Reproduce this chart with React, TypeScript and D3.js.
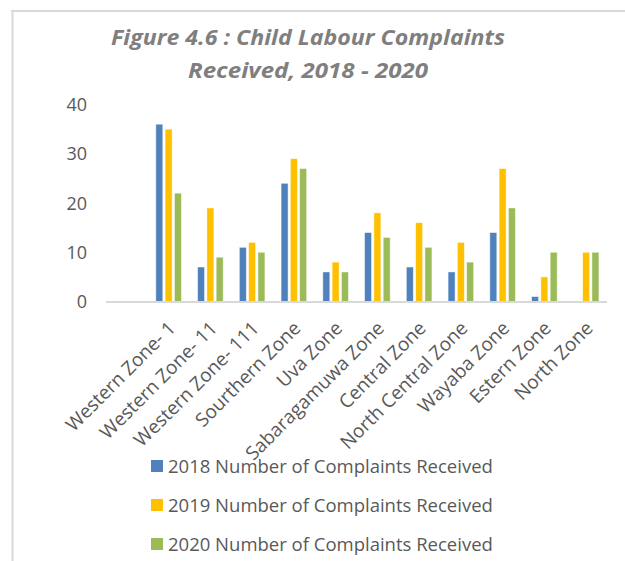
import React from "react";
import * as d3 from "d3";

const categories = ["", "Western Zone- 1", "Western Zone- 11", "Western Zone- 111", "Sourthern Zone", "Uva Zone", "Sabaragamuwa Zone", "Central Zone", "North Central Zone", "Wayaba Zone", "Estern Zone", "North Zone"];
const series2018 = [null, 36, 7, 11, 24, 6, 14, 7, 6, 14, 1, 0];
const series2019 = [null, 35, 19, 12, 29, 8, 18, 16, 12, 27, 5, 10];
const series2020 = [null, 22, 9, 10, 27, 6, 13, 11, 8, 19, 10, 10];
const seriesNames = ["2018 Number of Complaints Received", "2019 Number of Complaints Received", "2020 Number of Complaints Received"];
const colors = ["#4F81BD", "#FFC000", "#9BBB59"];
const yTicks = [0, 10, 20, 30, 40];

export default function App() {
  const W = 625, H = 561;
  const left = 106, right = 607, top = 104.5, bottom = 301.5;
  const x = d3.scaleBand<string>().domain(categories).range([left, right]).paddingInner(0).paddingOuter(0);
  const y = d3.scaleLinear().domain([0, 40]).range([bottom, top]);
  const allSeries = [series2018, series2019, series2020];
  const bw = x.bandwidth();
  const step = 9.3;
  const barW = 7;
  const font = "'Open Sans', 'Noto Sans', sans-serif";
  const textColor = "#595959";

  return (
    <svg width={W} height={H} style={{ position: "absolute", left: 0, top: 0, background: "#fff" }}>
      <line x1={11} y1={11} x2={625} y2={11} stroke="#d9d9d9" strokeWidth={2} />
      <line x1={12.5} y1={10} x2={12.5} y2={561} stroke="#d9d9d9" strokeWidth={2} />
      <g fontFamily={font} fontStyle="italic" fontWeight="bold" fill="#7f7f7f" fontSize={21} textAnchor="middle">
        <text x={308} y={45} textLength={394} lengthAdjust="spacingAndGlyphs">Figure 4.6 :  Child Labour Complaints</text>
        <text x={308} y={78} textLength={240} lengthAdjust="spacingAndGlyphs">Received, 2018 - 2020</text>
      </g>
      <g fontFamily={font} fontSize={18} fill={textColor} textAnchor="end">
        {yTicks.map(t => (
          <text key={t} x={87} y={y(t) + 6.5}>{t}</text>
        ))}
      </g>
      {allSeries.map((s, si) => (
        <g key={si} fill={colors[si]}>
          {s.map((v, i) => {
            if (v == null || v === 0) return null;
            const cx = (x(categories[i]) as number) + bw / 2;
            const bx = cx + (si - 1) * step - barW / 2;
            return <rect key={i} x={bx} y={y(v)} width={barW} height={y(0) - y(v)} stroke="#ffffff" strokeOpacity={0.6} strokeWidth={0.8} />;
          })}
        </g>
      ))}
      <line x1={left} x2={right} y1={bottom + 0.5} y2={bottom + 0.5} stroke="#d9d9d9" strokeWidth={2} />
      <g fontFamily={font} fontSize={19} fill={textColor} textAnchor="end">
        {categories.map((c, i) => {
          if (!c) return null;
          const cx = (x(c) as number) + bw / 2;
          return (
            <text key={c} transform={`translate(${cx + 8},${bottom + 28}) rotate(-45)`}>{c}</text>
          );
        })}
      </g>
      <g fontFamily={font} fontSize={18.5} fill={textColor}>
        {seriesNames.map((n, i) => (
          <g key={n} transform={`translate(151,${466 + i * 39})`}>
            <rect x={0} y={-6} width={12} height={12} fill={colors[i]} />
            <text x={17} y={6.5}>{n}</text>
          </g>
        ))}
      </g>
    </svg>
  );
}
